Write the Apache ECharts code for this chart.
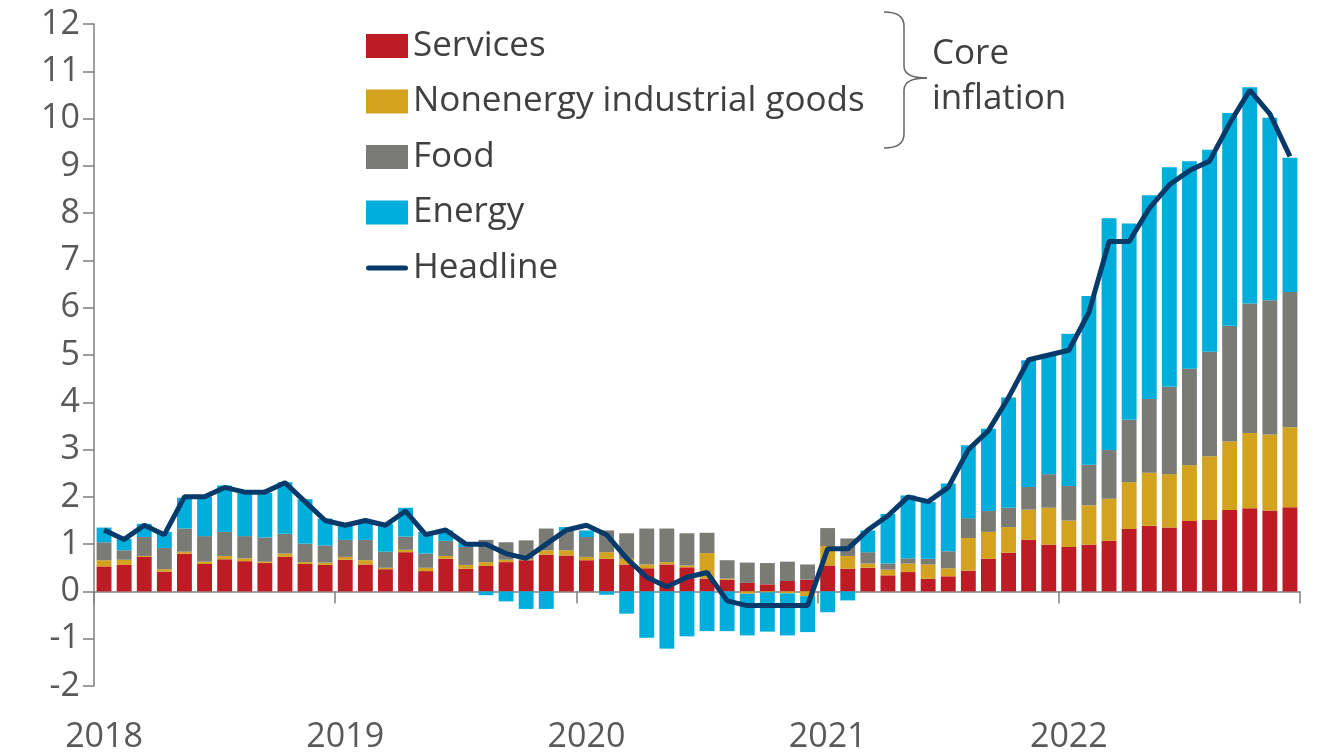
<!DOCTYPE html>
<html><head><meta charset="utf-8">
<script src="https://cdn.jsdelivr.net/npm/echarts@6/dist/echarts.min.js"></script>
<style>html,body{margin:0;padding:0;background:#fff;overflow:hidden}#c{width:1317px;height:752px}</style>
</head><body><div id="c"></div>
<script>
const categories = [
'2018-01','2018-02','2018-03','2018-04','2018-05','2018-06','2018-07','2018-08','2018-09','2018-10','2018-11','2018-12',
'2019-01','2019-02','2019-03','2019-04','2019-05','2019-06','2019-07','2019-08','2019-09','2019-10','2019-11','2019-12',
'2020-01','2020-02','2020-03','2020-04','2020-05','2020-06','2020-07','2020-08','2020-09','2020-10','2020-11','2020-12',
'2021-01','2021-02','2021-03','2021-04','2021-05','2021-06','2021-07','2021-08','2021-09','2021-10','2021-11','2021-12',
'2022-01','2022-02','2022-03','2022-04','2022-05','2022-06','2022-07','2022-08','2022-09','2022-10','2022-11','2022-12'];

const services = [
0.53,0.56,0.73,0.42,0.80,0.58,0.68,0.64,0.60,0.73,0.58,0.56,
0.67,0.57,0.47,0.83,0.43,0.69,0.48,0.54,0.62,0.66,0.78,0.76,
0.66,0.69,0.57,0.49,0.57,0.51,0.27,0.25,0.18,0.15,0.22,0.25,
0.55,0.48,0.50,0.34,0.41,0.27,0.32,0.44,0.69,0.82,1.09,0.99,
0.94,0.99,1.07,1.32,1.39,1.35,1.49,1.51,1.72,1.76,1.71,1.78];

const nonenergyGoods = [
0.13,0.11,0.02,0.05,0.04,0.05,0.07,0.06,0.03,0.07,0.04,0.05,
0.06,0.09,0.03,0.05,0.07,0.06,0.08,0.08,0.05,0.02,0.09,0.11,
0.07,0.14,0.12,0.08,0.05,0.04,0.54,0.02,-0.05,-0.02,-0.04,-0.10,
0.41,0.27,0.09,0.12,0.18,0.30,0.17,0.69,0.57,0.54,0.64,0.78,
0.56,0.83,0.89,0.99,1.12,1.13,1.18,1.35,1.45,1.59,1.61,1.69];

const food = [
0.38,0.20,0.40,0.45,0.49,0.54,0.51,0.47,0.51,0.42,0.39,0.36,
0.36,0.43,0.34,0.28,0.30,0.32,0.38,0.47,0.37,0.40,0.46,0.42,
0.42,0.46,0.54,0.76,0.71,0.68,0.43,0.39,0.43,0.45,0.41,0.32,
0.38,0.37,0.24,0.13,0.11,0.12,0.36,0.42,0.44,0.41,0.48,0.71,
0.73,0.86,1.03,1.32,1.56,1.85,2.04,2.21,2.45,2.74,2.84,2.86];

const energy = [
0.31,0.24,0.28,0.34,0.65,0.83,0.98,0.91,0.94,1.09,0.94,0.57,
0.31,0.41,0.59,0.61,0.46,0.22,0.10,-0.08,-0.21,-0.37,-0.37,0.07,
0.14,-0.07,-0.47,-0.98,-1.21,-0.95,-0.84,-0.84,-0.88,-0.83,-0.89,-0.76,
-0.44,-0.19,0.46,1.05,1.33,1.20,1.43,1.54,1.74,2.33,2.68,2.54,
3.22,3.57,4.90,4.15,4.31,4.64,4.39,4.27,4.50,4.57,3.86,2.84];

const headline = [
1.3,1.1,1.4,1.2,2.0,2.0,2.2,2.1,2.1,2.3,1.9,1.5,
1.4,1.5,1.4,1.7,1.2,1.3,1.0,1.0,0.8,0.7,1.0,1.3,
1.4,1.2,0.7,0.3,0.1,0.3,0.4,-0.2,-0.3,-0.3,-0.3,-0.3,
0.9,0.9,1.3,1.6,2.0,1.9,2.2,3.0,3.4,4.1,4.9,5.0,
5.1,5.9,7.4,7.4,8.1,8.6,8.9,9.1,9.9,10.6,10.1,9.2];

const FONT = 'Open Sans';
const chart = echarts.init(document.getElementById('c'), null, {renderer: 'canvas'});
const barBase = {type: 'bar', stack: 'total', barCategoryGap: '26%'};
const braceStyle = {stroke: '#666666', lineWidth: 1.5, fill: 'none'};
chart.setOption({
  animation: false,
  backgroundColor: '#ffffff',
  grid: {left: 94, right: 17, top: 24, bottom: 66, outerBoundsMode: 'none'},
  legend: {
    orient: 'vertical', left: 366, top: 28.5, padding: 0,
    itemWidth: 42, itemHeight: 24, itemGap: 20.5,
    textStyle: {fontFamily: FONT, fontSize: 35, color: '#404040'},
    data: [
      {name: 'Services', icon: 'rect'},
      {name: 'Nonenergy industrial goods', icon: 'rect'},
      {name: 'Food', icon: 'rect'},
      {name: 'Energy', icon: 'rect'},
      {name: 'Headline', icon: 'path://M2.5 0 H39.5 A2.5 2.5 0 0 1 39.5 5 H2.5 A2.5 2.5 0 0 1 2.5 0 Z'}
    ]
  },
  xAxis: {
    type: 'category', data: categories, boundaryGap: true,
    axisLine: {onZero: true, lineStyle: {color: '#7f7f7f', width: 1.5}},
    axisTick: {show: true, length: 12, interval: (i) => i % 12 === 0, lineStyle: {color: '#7f7f7f', width: 1.5}},
    axisLabel: {
      interval: (i) => i % 12 === 0, margin: 34,
      fontFamily: FONT, fontSize: 34, color: '#595959',
      formatter: (v) => v.slice(0, 4)
    },
    splitLine: {show: false}
  },
  yAxis: {
    type: 'value', min: -2, max: 12, interval: 1,
    axisLine: {show: true, lineStyle: {color: '#7f7f7f', width: 1.5}},
    axisTick: {show: true, length: 11, lineStyle: {color: '#7f7f7f', width: 1.5}},
    axisLabel: {margin: 14, fontFamily: FONT, fontSize: 34, color: '#595959'},
    splitLine: {show: false}
  },
  series: [
    Object.assign({name: 'Services', data: services, itemStyle: {color: '#BE1C24'}}, barBase),
    Object.assign({name: 'Nonenergy industrial goods', data: nonenergyGoods, itemStyle: {color: '#D3A21F'}}, barBase),
    Object.assign({name: 'Food', data: food, itemStyle: {color: '#7B7B75'}}, barBase),
    Object.assign({name: 'Energy', data: energy, itemStyle: {color: '#00AEDB'}}, barBase),
    {name: 'Headline', type: 'line', data: headline, symbol: 'none', z: 5,
     lineStyle: {color: '#063A6B', width: 5}, itemStyle: {color: '#063A6B'}}
  ],
  graphic: [
    {type: 'bezierCurve', shape: {x1: 884, y1: 12, cpx1: 904, cpy1: 12, x2: 904, y2: 26}, style: braceStyle},
    {type: 'line', shape: {x1: 904, y1: 26, x2: 904, y2: 66}, style: braceStyle},
    {type: 'bezierCurve', shape: {x1: 904, y1: 66, cpx1: 904, cpy1: 78, x2: 927, y2: 78}, style: braceStyle},
    {type: 'bezierCurve', shape: {x1: 927, y1: 78, cpx1: 904, cpy1: 78, x2: 904, y2: 90}, style: braceStyle},
    {type: 'line', shape: {x1: 904, y1: 90, x2: 904, y2: 134}, style: braceStyle},
    {type: 'bezierCurve', shape: {x1: 904, y1: 134, cpx1: 904, cpy1: 148, x2: 884, y2: 148}, style: braceStyle},
    {type: 'text', left: 932, top: 37, style: {text: 'Core', fontFamily: FONT, fontSize: 35, fill: '#404040'}},
    {type: 'text', left: 932, top: 82, style: {text: 'inflation', fontFamily: FONT, fontSize: 35, fill: '#404040'}}
  ]
});
</script>
</body></html>
